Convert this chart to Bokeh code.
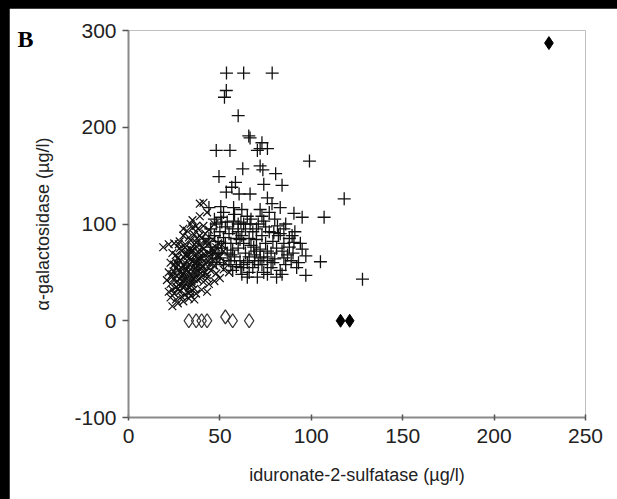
from bokeh.plotting import figure
from bokeh.layouts import column
from bokeh.models import Range1d, Label, FixedTicker
from bokeh.embed import file_html
from bokeh.resources import INLINE

# ---- data ----
plus_x = [53.6, 63, 78.6, 53.5, 52.5, 60, 65.8, 66.5, 73, 72, 76, 48, 55.5, 70.5, 99, 62.5, 72, 73.5,
          49.5, 80.5, 58.5, 56.5, 74, 84, 60.5, 66.5, 53.5, 76, 118, 44, 50.5, 57.5, 62, 78.5, 83,
          90.5, 95, 107, 50.5, 54, 61.5, 66.5, 73, 81.5, 74, 57.5, 79.5, 83, 89.5, 90.5, 95, 97, 85,
          105, 93, 97, 128, 68.5, 76, 72, 61.5, 65, 70.5,
          45, 47, 48, 49, 50, 51, 52, 53, 54, 55, 56, 57, 58, 59, 60, 60, 61, 62, 63, 64, 64, 65, 66,
          67, 68, 68, 69, 70, 71, 71, 72, 73, 74, 75, 76, 77, 78, 78, 79, 80, 81, 82, 83, 84, 85, 86,
          87, 88, 89, 90, 92, 46, 48, 50, 52, 55, 57, 59, 62, 66, 69, 73, 76, 79, 63, 67, 70, 75, 80,
          86, 58, 52, 47, 44, 45, 49, 53, 56, 60, 65, 72, 77, 85, 88, 91, 94, 81, 84, 57, 61, 66, 70,
          74, 63, 56, 51]
plus_y = [256, 256, 256, 238, 231, 212, 191, 189, 184, 178, 178, 176, 176, 176, 165, 157, 160, 156,
          149, 152, 143, 138, 141, 140, 131, 131, 133, 127, 126, 117, 118, 117, 115, 121, 117,
          111, 107, 107, 107, 102, 102, 100, 108, 98, 103, 103, 91, 90, 88, 81, 74, 67, 65,
          61, 60, 47, 43, 76, 72, 65, 55, 45, 45,
          95, 88, 100, 82, 92, 75, 86, 97, 70, 90, 80, 95, 66, 85, 92, 75, 62, 88, 80, 70, 95, 60, 85,
          78, 92, 55, 68, 84, 100, 58, 74, 88, 50, 80, 62, 92, 70, 55, 82, 64, 75, 88, 52, 72, 80, 58,
          68, 76, 62, 70, 55, 70, 60, 65, 58, 62, 52, 56, 48, 50, 62, 58, 48, 60, 100, 105, 95, 97, 105,
          100, 110, 112, 105, 85, 76, 70, 80, 68, 100, 108, 115, 112, 95, 85, 92, 80, 45, 48, 73, 84, 66, 72,
          66, 58, 58, 102]

cross_x = [24, 27, 30, 26, 33, 29, 36, 23,
           25, 28, 31, 34, 37, 40, 27, 30, 33, 36, 24, 43, 22,
           23, 26, 29, 32, 35, 38, 41, 44, 47, 25, 28, 31, 34, 37, 40, 43, 50, 21,
           22, 24, 27, 30, 33, 36, 39, 42, 45, 48, 26, 29, 32, 35, 38, 41, 44, 47, 52, 55,
           23, 25, 28, 31, 34, 37, 40, 43, 46, 49, 27, 30, 33, 36, 39, 42, 45, 50, 53,
           24, 26, 29, 32, 35, 38, 41, 44, 47, 28, 31, 34, 37, 40, 43, 48, 52,
           25, 28, 31, 34, 37, 40, 43, 46, 30, 33, 36, 39, 42, 22, 19, 27.5, 49,
           32, 35, 38, 41, 37, 44, 35, 39, 41, 39, 34, 47, 30, 43,
           29.5, 31.5, 33.5, 35.5, 37.5, 39.5, 32.5, 34.5, 36.5, 38.5, 30.5, 40.5, 28.5, 42.5,
           31.2, 33.8, 35.1, 37.9, 29.2, 41.3, 34.2, 36.2, 38.2, 32.2, 30.1, 26.6, 27.4, 44.7,
           33.3, 35.7, 31.8, 37.1, 39.2, 28.1, 36.9, 34.8, 32.9, 45.9, 25.8, 24.6, 40.2, 42.8,
           29.9, 27.1, 38.8, 35.3, 31.4, 46.4, 51.3, 48.8, 23.6, 26.2, 37.4, 34.1, 41.9, 36.6]
cross_y = [15, 18, 20, 22, 23, 25, 22, 24,
           28, 30, 27, 30, 28, 32, 33, 34, 35, 33, 32, 30, 30,
           38, 40, 37, 40, 38, 42, 40, 38, 41, 44, 43, 45, 44, 46, 45, 44, 44, 42,
           50, 48, 52, 49, 51, 50, 53, 50, 52, 49, 55, 54, 56, 55, 57, 56, 55, 57, 53, 50,
           60, 58, 62, 60, 63, 61, 64, 60, 63, 61, 65, 66, 64, 67, 66, 68, 65, 66, 60,
           70, 68, 72, 70, 73, 71, 74, 70, 72, 75, 76, 74, 77, 76, 78, 76, 72,
           80, 82, 79, 83, 81, 85, 82, 84, 88, 86, 89, 88, 90, 79, 76, 79, 80,
           93, 96, 95, 98, 98, 94, 104, 108, 122, 121, 100, 100, 95, 112,
           47, 53, 58, 44, 61, 49, 67, 41, 55, 70, 36, 57, 51, 64,
           42, 48, 62, 52, 45, 69, 39, 59, 65, 73, 57, 46, 37, 59,
           34, 43, 68, 48, 79, 62, 54, 71, 29, 75, 61, 51, 56, 47,
           41, 58, 63, 77, 52, 70, 78, 67, 45, 35, 85, 26, 82, 60]

open_x = [33, 37, 40, 43, 53, 57, 66]
open_y = [0, 0, 0, 0, 4, 0, 0]

filled_x = [116, 121, 230]
filled_y = [0, 0, 287]

x_ticks = [0, 50, 100, 150, 200, 250]
y_ticks = [-100, 0, 100, 200, 300]

FONT = "Liberation Sans"

p = figure(output_backend="svg", toolbar_location=None,
           x_range=Range1d(0, 250), y_range=Range1d(-100, 300),
           frame_width=457, frame_height=387,
           min_border_left=119, min_border_right=32, min_border_top=22, min_border_bottom=82,
           background_fill_color="white", border_fill_color="white",
           outline_line_color=None)
p.grid.visible = False

for ax in (p.xaxis[0], p.yaxis[0]):
    ax.axis_line_color = "#8a8a8a"
    ax.axis_line_width = 2
    ax.major_tick_line_color = "#555555"
    ax.major_tick_line_width = 1.5
    ax.minor_tick_line_color = None
    ax.major_label_text_font = FONT
    ax.major_label_text_font_size = "21px"
    ax.major_label_text_color = "#222222"
    ax.axis_label_text_font = FONT
    ax.axis_label_text_font_size = "18px"
    ax.axis_label_text_font_style = "normal"
    ax.axis_label_text_color = "#222222"

p.xaxis.ticker = FixedTicker(ticks=x_ticks)
p.yaxis.ticker = FixedTicker(ticks=y_ticks)
p.yaxis.major_label_overrides = {t: str(t) for t in y_ticks}
p.xaxis.major_tick_in = 3
p.xaxis.major_tick_out = 3
p.yaxis.major_tick_in = 0
p.yaxis.major_tick_out = 6
p.xaxis.major_label_standoff = 8
p.yaxis.major_label_standoff = 6
p.xaxis.axis_label = "iduronate-2-sulfatase (µg/l)"
p.yaxis.axis_label = "α-galactosidase (µg/l)"
p.xaxis.axis_label_standoff = 19
p.yaxis.axis_label_standoff = 18

p.scatter(cross_x, cross_y, marker="x", size=11, line_color="#111111", line_width=1.2,
          fill_color=None)
p.scatter(plus_x, plus_y, marker="cross", size=13, line_color="#111111", line_width=1.3,
          fill_color=None)
p.scatter(open_x, open_y, marker="diamond", size=14, line_color="#333333", line_width=1.3,
          fill_color=None)
p.scatter(filled_x, filled_y, marker="diamond", size=13, line_color="black", fill_color="black")

p.add_layout(Label(x=3, y=379, x_units="screen", y_units="screen", text="B",
                   text_font="Liberation Serif", text_font_style="bold",
                   text_font_size="24px", text_baseline="middle", text_align="left",
                   text_color="black"), "left")

layout = column(p, styles={"background-color": "black", "padding-left": "9px",
                           "padding-top": "8px"})

open("out.html", "w").write(file_html(layout, INLINE))
